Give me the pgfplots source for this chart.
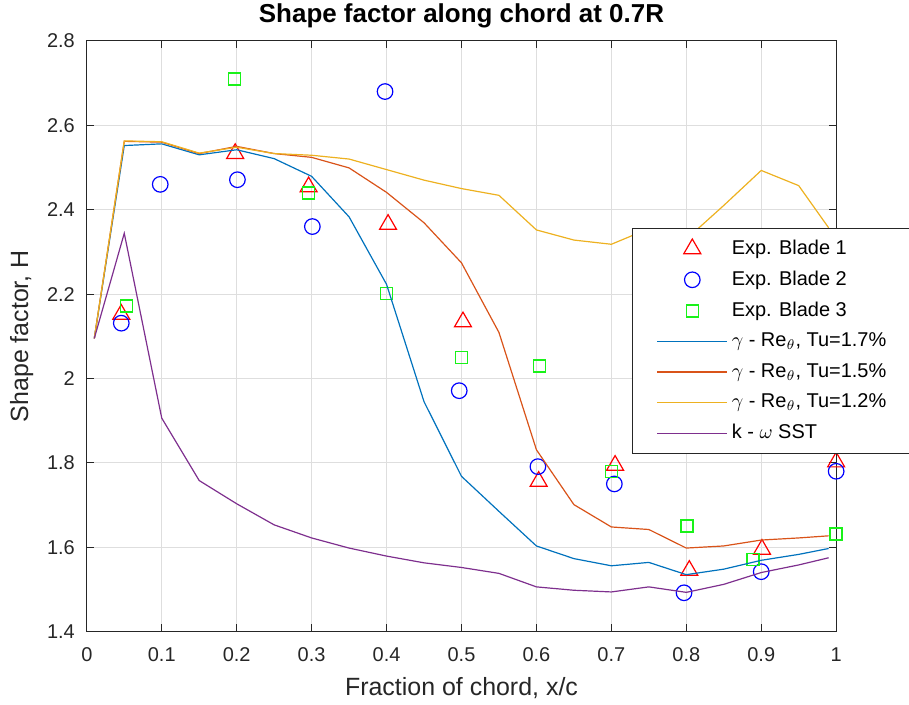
\documentclass[border=0pt]{standalone}
\usepackage{fontspec}
\setmainfont{Liberation Sans}
\usepackage{pgfplots}
\pgfplotsset{compat=1.18}

% MATLAB default line colours
\definecolor{mblue}{rgb}{0,0.447,0.741}
\definecolor{morange}{rgb}{0.850,0.325,0.098}
\definecolor{myellow}{rgb}{0.929,0.694,0.125}
\definecolor{mpurple}{rgb}{0.494,0.184,0.556}
\definecolor{mgreen}{rgb}{0.1,0.95,0.1}

\begin{document}
\begin{tikzpicture}
\begin{axis}[
  scale only axis,
  width=375.5pt, height=296pt,
  xmin=0, xmax=1, ymin=1.4, ymax=2.8,
  xtick={0,0.1,0.2,0.3,0.4,0.5,0.6,0.7,0.8,0.9,1},
  ytick={1.4,1.6,1.8,2,2.2,2.4,2.6,2.8},
  tick align=inside,
  major tick length=3.7pt,
  tick style={black!85, line width=0.5pt},
  axis line style={black!85, line width=0.5pt},
  grid=major, grid style={black!13, line width=0.5pt},
  /pgf/number format/assume math mode=true,
  tick label style={font=\fontsize{10}{12}\selectfont, black!85},
  xticklabel style={yshift=-4.5pt},
  yticklabel style={xshift=-2.5pt},
  xlabel={Fraction of chord, x/c},
  ylabel={Shape factor, H},
  label style={font=\fontsize{12.5}{15}\selectfont, black!85},
  xlabel style={yshift=-1pt},
  title={Shape factor along chord at 0.7R},
  title style={font=\fontsize{13}{15}\selectfont\bfseries, yshift=-3pt},
  clip mode=individual,
  legend style={at={(0.728,0.684)}, anchor=north west,
    draw=black!85, fill=white, line width=0.5pt,
    font=\fontsize{10}{12}\selectfont, row sep=2.8pt,
    inner xsep=12pt, inner ysep=4pt},
  legend cell align=left,
  legend image code/.code={\draw[mark repeat=2,mark phase=2]
    plot coordinates {(0pt,0pt) (17.5pt,0pt) (35pt,0pt)};},
]
% experiments
\addplot[only marks, mark=triangle, mark size=4.9pt, red, mark options={line width=0.6pt}]
  coordinates {(0.046,2.152) (0.198,2.533) (0.296,2.454) (0.402,2.365) (0.502,2.134)
  (0.603,1.756) (0.705,1.794) (0.804,1.545) (0.901,1.595) (1.0,1.802)};
\addlegendentry{Exp. Blade 1}
\addplot[only marks, mark=o, mark size=3.9pt, blue, mark options={line width=0.6pt}]
  coordinates {(0.046,2.131) (0.098,2.460) (0.201,2.471) (0.301,2.360) (0.398,2.680)
  (0.497,1.971) (0.602,1.791) (0.704,1.750) (0.797,1.492) (0.9,1.542) (1.0,1.780)};
\addlegendentry{Exp. Blade 2}
\addplot[only marks, mark=square, mark size=3pt, mgreen, mark options={line width=0.75pt}]
  coordinates {(0.053,2.172) (0.197,2.710) (0.296,2.440) (0.400,2.201) (0.500,2.050)
  (0.604,2.030) (0.700,1.780) (0.801,1.650) (0.889,1.571) (1.0,1.631)};
\addlegendentry{Exp. Blade 3}

% simulations
\addplot[mblue, line width=0.6pt] coordinates {
  (0.01,2.095) (0.05,2.552) (0.1,2.556) (0.15,2.530) (0.2,2.542) (0.25,2.521)
  (0.3,2.479) (0.35,2.383) (0.4,2.223) (0.45,1.945) (0.5,1.768) (0.55,1.685)
  (0.6,1.603) (0.65,1.573) (0.7,1.556) (0.75,1.564) (0.8,1.535) (0.85,1.548)
  (0.9,1.569) (0.95,1.583) (0.99,1.597)};
\addlegendentry{$\gamma$ - Re$_\theta$, Tu=1.7\%}
\addplot[morange, line width=0.6pt] coordinates {
  (0.01,2.095) (0.05,2.562) (0.1,2.560) (0.15,2.533) (0.2,2.550) (0.25,2.533)
  (0.3,2.524) (0.35,2.499) (0.4,2.441) (0.45,2.369) (0.5,2.274) (0.55,2.109)
  (0.6,1.831) (0.65,1.701) (0.7,1.648) (0.75,1.642) (0.8,1.598) (0.85,1.603)
  (0.9,1.617) (0.95,1.622) (0.99,1.627)};
\addlegendentry{$\gamma$ - Re$_\theta$, Tu=1.5\%}
\addplot[myellow, line width=0.6pt] coordinates {
  (0.01,2.095) (0.05,2.563) (0.1,2.561) (0.15,2.534) (0.2,2.548) (0.25,2.533)
  (0.3,2.529) (0.35,2.520) (0.4,2.495) (0.45,2.470) (0.5,2.450) (0.55,2.434)
  (0.6,2.352) (0.65,2.328) (0.7,2.318) (0.75,2.355) (0.8,2.330) (0.85,2.410)
  (0.9,2.493) (0.95,2.457) (0.99,2.357)};
\addlegendentry{$\gamma$ - Re$_\theta$, Tu=1.2\%}
\addplot[mpurple, line width=0.6pt] coordinates {
  (0.01,2.095) (0.05,2.344) (0.1,1.906) (0.15,1.758) (0.2,1.703) (0.25,1.653)
  (0.3,1.622) (0.35,1.598) (0.4,1.579) (0.45,1.563) (0.5,1.552) (0.55,1.538)
  (0.6,1.506) (0.65,1.498) (0.7,1.494) (0.75,1.506) (0.8,1.493) (0.85,1.512)
  (0.9,1.540) (0.95,1.558) (0.99,1.575)};
\addlegendentry{k - $\omega$ SST}
\end{axis}
% crop the page like the reference (legend runs off the right edge)
\pgfresetboundingbox
\path[use as bounding box] (-43.5pt,-36.5pt) rectangle (412pt,316.5pt);
\end{tikzpicture}
\end{document}
